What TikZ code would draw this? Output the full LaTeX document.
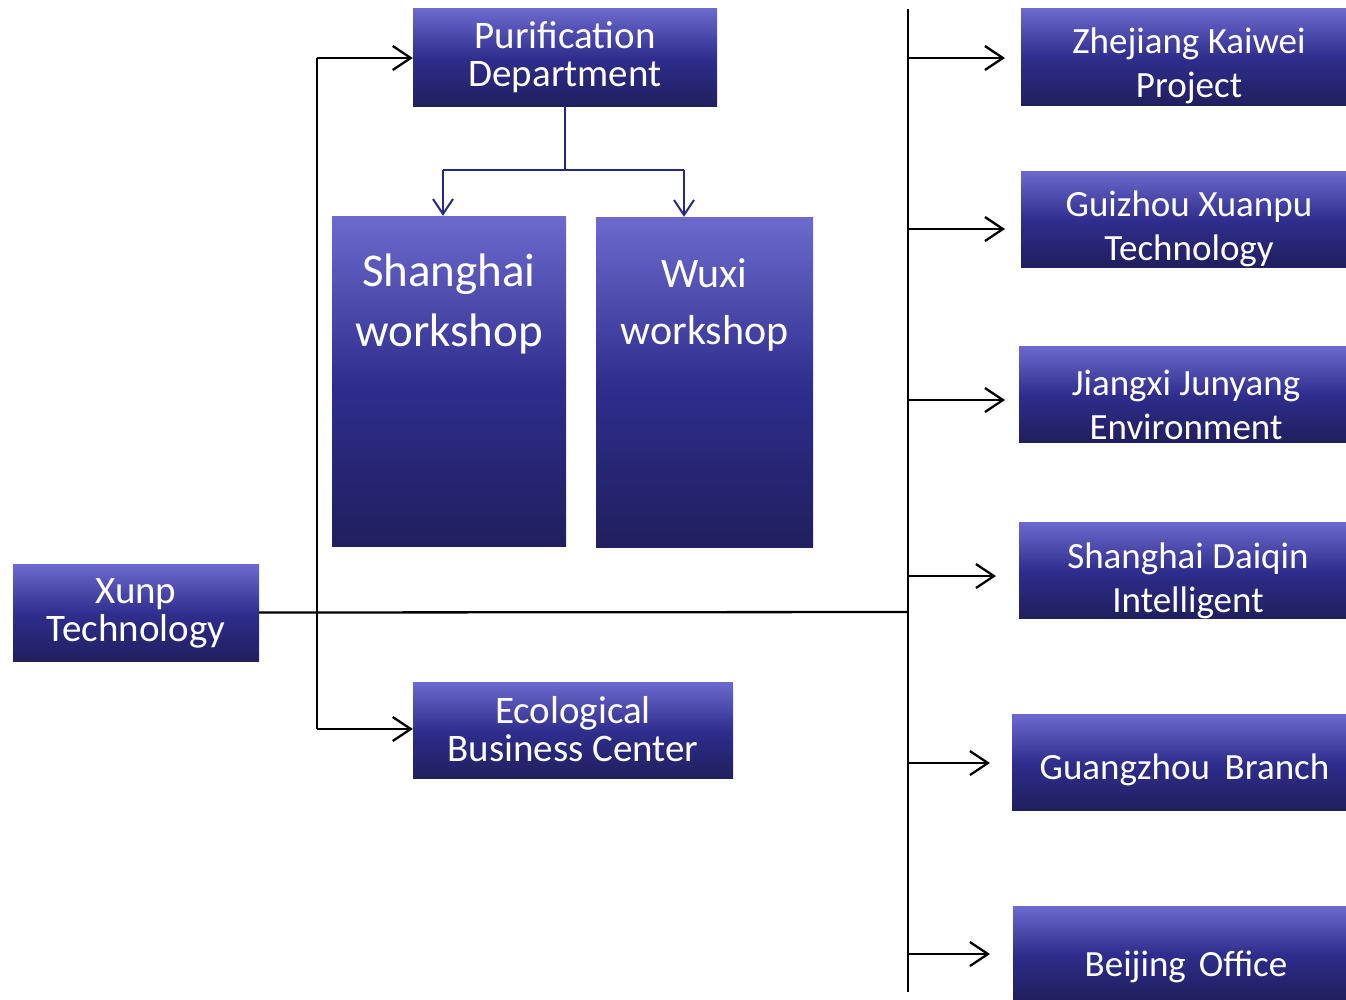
\documentclass[tikz,border=0pt]{standalone}
\usepackage{fontspec}
\setmainfont{Carlito}
\usetikzlibrary{arrows.meta}
\definecolor{btop}{RGB}{108,106,205}
\definecolor{bmid}{RGB}{46,45,140}
\definecolor{bbot}{RGB}{33,31,94}
\definecolor{bline}{RGB}{40,40,130}
\pgfdeclareverticalshading{boxshade}{100bp}{color(0bp)=(bbot); color(25bp)=(bbot); color(49bp)=(bmid); color(75bp)=(btop); color(100bp)=(btop)}
\begin{document}
\begin{tikzpicture}[x=1pt,y=-1pt,
  box/.style={rectangle,draw=none,inner sep=0pt,shading=boxshade},
  txt/.style={text=white,align=center,inner sep=0pt},
  t39/.style={txt,font=\fontsize{39}{38}\selectfont},
  t37/.style={txt,font=\fontsize{37}{44}\selectfont},
  blk/.style={line width=2.3pt,black},
  arr/.style={blk,-{Straight Barb[length=18pt,width=24pt,line width=2.3pt]}},
  barr/.style={line width=2pt,bline,-{Straight Barb[length=15pt,width=20pt,line width=2pt]}},
]
\useasboundingbox (0,0) rectangle (1346,999);
% boxes
\node[box,minimum width=304pt,minimum height=98pt] (pur) at (565,57) {};
\node[box,minimum width=234pt,minimum height=330pt] (sh) at (449,381) {};
\node[box,minimum width=217pt,minimum height=330pt] (wx) at (704.5,382) {};
\node[box,minimum width=246pt,minimum height=97pt] (xunp) at (136,612.5) {};
\node[box,minimum width=320pt,minimum height=96pt] (eco) at (573,730) {};
\node[box,minimum width=325pt,minimum height=97pt] (zj) at (1183.5,56.5) {};
\node[box,minimum width=325pt,minimum height=96pt] (gz) at (1183.5,219) {};
\node[box,minimum width=327pt,minimum height=96pt] (jx) at (1182.5,394) {};
\node[box,minimum width=327pt,minimum height=96pt] (sd) at (1182.5,570) {};
\node[box,minimum width=334pt,minimum height=96pt] (gzb) at (1179,762) {};
\node[box,minimum width=333pt,minimum height=93pt] (bj) at (1179.5,952.5) {};
% texts
\node[t39] (purT) at (565,57) {Purification\\Department};
\node[txt,font=\fontsize{47}{60}\selectfont] (shT) at (449,304) {Shanghai\\workshop};
\node[txt,font=\fontsize{42}{57}\selectfont] (wxT) at (704.5,305) {Wuxi\\workshop};
\node[t39] (xunpT) at (136,613) {Xunp\\Technology};
\node[t39] (ecoT) at (573,729) {Ecological\\Business Center};
\node[t37] (zjT) at (1189,66) {Zhejiang Kaiwei\\Project};
\node[t37] (gzT) at (1189,229) {Guizhou Xuanpu\\Technology};
\node[t37] (jxT) at (1186,405) {Jiangxi Junyang\\Environment};
\node[t37] (sdT) at (1188,581) {Shanghai Daiqin\\Intelligent};
\node[t37] (gzbT) at (1184.5,770) {Guangzhou\hspace{0.4em}Branch};
\node[t37] (bjT) at (1186,967) {Beijing\hspace{0.35em}Office};
% coordinates
\coordinate (lt) at (317,58);
\coordinate (lb) at (317,729);
\coordinate (rt) at (908,9);
\coordinate (rb) at (908,992);
\coordinate (rj) at (908,612);
\coordinate (j1) at (565,170);
\coordinate (jl) at (443,170);
\coordinate (jr) at (684,170);
\coordinate (e1) at (1005,58);
\coordinate (e2) at (1005,229);
\coordinate (e3) at (1005,400);
\coordinate (e4) at (996,576);
\coordinate (e5) at (990,763);
\coordinate (e6) at (990,954);
% blue connectors
\draw[line width=2pt,bline] (pur.south) -- (j1);
\draw[line width=2pt,bline] (jl) -- (jr);
\draw[barr] (jl) -- (jl |- sh.north);
\draw[barr] (jr) -- (jr |- wx.north);
% black connectors
\draw[blk] (xunp.east) -- (rj);
\draw[blk] (lt) -- (lb);
\draw[blk] (rt) -- (rb);
\draw[arr] (lt) -- (lt -| pur.west);
\draw[arr] (lb) -- (lb -| eco.west);
\draw[arr] (rt |- e1) -- (e1);
\draw[arr] (rt |- e2) -- (e2);
\draw[arr] (rt |- e3) -- (e3);
\draw[arr] (rt |- e4) -- (e4);
\draw[arr] (rt |- e5) -- (e5);
\draw[arr] (rt |- e6) -- (e6);
\end{tikzpicture}
\end{document}
